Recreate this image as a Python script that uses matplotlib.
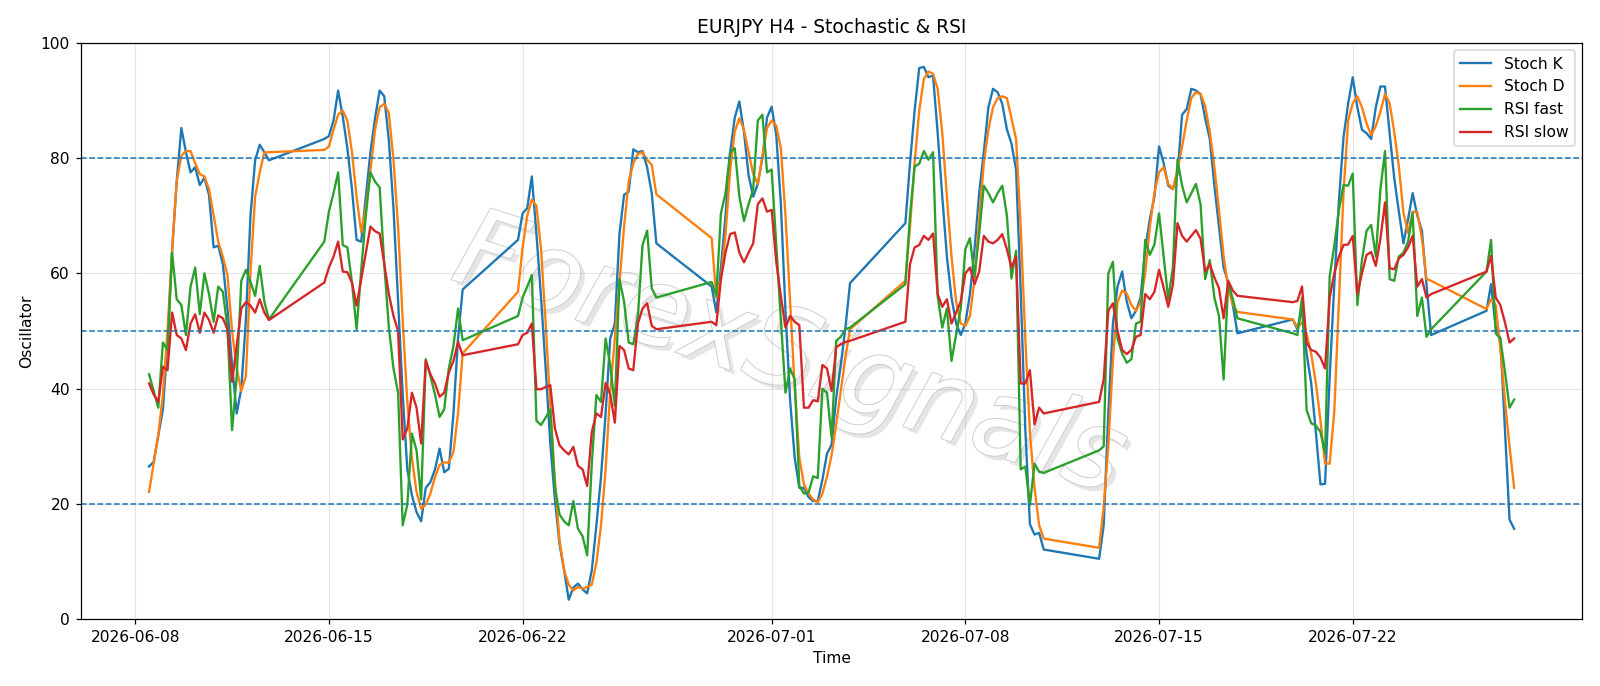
import matplotlib.pyplot as plt
import matplotlib.patheffects as pe
import pandas as pd

# H4 trading sessions (start, end) - weekends have no bars
sessions = [
    ("2026-06-08 12:00", "2026-06-12 20:00"),
    ("2026-06-14 20:00", "2026-06-19 20:00"),
    ("2026-06-21 20:00", "2026-06-26 20:00"),
    ("2026-06-28 20:00", "2026-07-03 20:00"),
    ("2026-07-05 20:00", "2026-07-10 20:00"),
    ("2026-07-12 20:00", "2026-07-17 20:00"),
    ("2026-07-19 20:00", "2026-07-24 20:00"),
    ("2026-07-26 20:00", "2026-07-27 20:00"),
]

stoch_k = [
    26.5, 27.3, 31.8, 36.4, 48, 64, 76, 85.2, 81, 77.5, 78.4, 75.3, 76.6, 73.6, 64.5, 64.8, 61.6, 53.9, 44.1, 35.7, 40, 52, 70, 79.6, 82.3, 81, 79.6,
    83.3, 83.8, 86.5, 91.7, 87.2, 81.7, 74.6, 65.8, 65.5, 73.3, 81, 86.9, 91.7, 90.7, 83, 71.3, 55.1, 39, 26, 21.5, 18.6, 17, 22.8, 23.8, 26, 29.6, 25.5, 26.1, 35.7, 48.7, 57.2,
    65.8, 70.4, 71.3, 76.8, 66.8, 55.8, 43.5, 30.5, 20.8, 13.1, 8.5, 3.4, 5.5, 6.2, 5.2, 4.5, 8.5, 16.3, 24.7, 35.7, 48.7, 51.3, 66.8, 73.6, 74.2, 81.5, 81, 81.2, 78.4, 73.9, 65.2,
    57.7, 53.2, 61, 70, 81, 87, 89.8, 84.5, 77, 73.3, 75.5, 80, 87, 88.9, 84, 72, 53.4, 38, 28, 22.8, 22.8, 21.2, 20.5, 20.5, 24.2, 28.7, 30.3, 38.4, 44.2, 50.6, 58.3,
    68.7, 79.1, 88.2, 95.6, 95.8, 94, 94.3, 84.3, 73.3, 62.9, 55.8, 51.3, 49.3, 51.3, 56.4, 64.2, 73.9, 81, 88.8, 92, 91.4, 89.4, 85, 82.5, 78, 57, 33, 16.5, 14.7, 15, 12.1,
    10.5, 16.3, 35.7, 51.3, 57.7, 60.3, 55.1, 52.2, 53.5, 55.8, 64.2, 69.4, 73.3, 82, 79.1, 75.2, 74.6, 77.2, 87.5, 88.5, 92, 91.7, 91.1, 86.9, 83.3, 75.2, 68.1, 61, 58.4, 54.5, 49.6,
    52, 50.3, 53.9, 46.1, 40.9, 32.5, 23.4, 23.5, 42, 58, 72.5, 83.6, 89.4, 94, 88.8, 84.9, 84.3, 83.3, 88.8, 92.4, 92.4, 84.3, 76.5, 70.7, 65.2, 69.4, 73.9, 70, 67.4, 58, 49.3,
    53.5, 58.1, 50.6, 48.7, 33, 17.3, 15.7,
]

stoch_d = [
    22.1, 27, 32, 39, 50, 64, 76, 80.4, 81.2, 81.2, 79.1, 77.2, 76.8, 74.6, 70, 65.5, 62.9, 59.7, 50, 43.5, 39.6, 42.2, 60.3, 73.3, 77.5, 81, 81,
    81.4, 82, 84.9, 87.5, 88.2, 86.5, 81, 73.3, 67.1, 71.3, 77.8, 84.9, 88.8, 89.4, 87.8, 79.7, 68.1, 51.9, 37.7, 28, 22.1, 19.2, 19.9, 21.8, 24.7, 26.8, 27.2, 27.2, 29, 35.7, 46.1,
    56.8, 64.5, 70, 72.8, 71.7, 64.2, 51.3, 37, 24.1, 13.7, 8.5, 6, 5, 5.6, 5.3, 5.6, 6, 9.8, 16.3, 26, 39.6, 48.7, 58.4, 68.1, 75.9, 79.1, 80.7, 81, 79.7, 78.8, 73.7,
    66.1, 55.8, 59, 66.8, 77.8, 84.6, 86.9, 84.9, 81, 77.2, 75.5, 80.4, 85.2, 86.5, 85.6, 81.7, 70, 55.1, 40.3, 28, 23.4, 21.8, 20.8, 20.3, 21.8, 24.7, 28.5, 33.8, 39.6, 45.5, 50.3,
    58.7, 68.1, 79.1, 88.2, 93.7, 95, 94.6, 92, 84.3, 73.3, 62.9, 55.1, 51.3, 50.9, 52.6, 59, 69.4, 79.1, 84.9, 88.8, 90.4, 90.7, 90.4, 86.9, 83.3, 68.1, 48.7, 32.5, 22.8, 16.3, 14,
    12.4, 19.5, 30, 45, 55, 57, 56.5, 54.5, 53.5, 55, 60, 68, 74, 77.5, 78.4, 75.5, 74.6, 78, 82, 86.5, 90.4, 91.4, 91.1, 89, 84.6, 78.5, 71, 63, 57.5, 54.5, 53.3,
    52, 50.6, 51.5, 49.5, 46, 41, 34.5, 27, 27, 36, 55, 74, 86.5, 89.5, 90.7, 88.8, 86, 84, 85.5, 88, 91.1, 89.5, 84.5, 78.5, 70.5, 67, 70.7, 70.6, 66, 59, 58.7,
    53.8, 55.5, 54.5, 47, 38, 30, 22.8,
]

rsi_fast = [
    42.5, 39.6, 36.7, 48, 46.7, 63.6, 55.5, 54.5, 49.3, 57.7, 61, 52.9, 60, 56.4, 51.6, 57.7, 56.8, 50.6, 32.8, 42, 58.7, 60.6, 58.5, 56.1, 61.3, 55.1, 52,
    65.5, 70.7, 73.9, 77.5, 64.9, 64.5, 58.4, 50.3, 60.5, 70, 77.5, 75.9, 74.9, 61.6, 50.6, 43.5, 39.3, 16.3, 19.9, 32.2, 29.3, 20.8, 45.1, 42.2, 39, 35.1, 36.4, 43.5, 47.4, 53.9, 48.4,
    52.6, 55.8, 57.7, 59.7, 34.4, 33.7, 35, 36.4, 23, 18.2, 17, 16.3, 20.5, 15.7, 14.4, 11.1, 27, 38.9, 37.7, 48.7, 44.1, 37, 59, 55.1, 48, 47.7, 52.6, 64.9, 67.4, 57.4, 55.8,
    58.5, 56.1, 70.4, 73.9, 81, 81.7, 73.3, 69.1, 72, 74.6, 86.5, 87.5, 77.5, 78, 64.9, 51.9, 39.3, 43.5, 41.6, 23.1, 21.8, 22, 24.8, 24.5, 40, 39.3, 31.5, 48.3, 49, 50.3, 50.6,
    58.1, 70, 78.5, 79, 81.2, 79.7, 81, 56, 50.6, 53.9, 44.8, 49.3, 53.9, 64.2, 66.1, 59.4, 66.8, 75.2, 73.9, 72.3, 73.9, 75.2, 70.1, 59.1, 63.9, 26, 26.5, 19.8, 27, 25.6, 25.4,
    29.3, 30, 60, 62, 48.7, 46.1, 44.5, 45.1, 51.3, 51.6, 65.8, 63.2, 65, 70.4, 63, 55.5, 61, 79.7, 75.2, 72.3, 73.9, 75.5, 72, 59, 62.3, 55.8, 52.6, 41.6, 58.4, 55.5, 52.2,
    49.6, 49.3, 55.8, 36.3, 34, 33.6, 32.5, 28.8, 59.5, 64.8, 71, 75.3, 75.2, 77.3, 54.5, 62.3, 67.4, 68.4, 62.9, 74.6, 81.2, 59, 58.7, 62.9, 63.6, 65.5, 70.4, 52.6, 55.8, 49, 50.3,
    60.3, 65.8, 49.6, 48.7, 43, 36.7, 38.1,
]

rsi_slow = [
    40.9, 39, 37.7, 43.8, 43.2, 53.2, 49.3, 48.7, 46.7, 51.3, 52.9, 49.7, 53.2, 51.9, 49.7, 52.7, 52.2, 50.3, 41.2, 47.4, 53.9, 55, 54.4, 53.2, 55.5, 53.2, 51.9,
    58.4, 61, 62.9, 65.5, 60.3, 60.2, 58.4, 54.4, 59, 63.6, 68.1, 67.3, 66.9, 61.6, 56.4, 52.6, 50, 31.2, 33.1, 39.3, 36.7, 30.5, 44.8, 42.5, 40.9, 38.6, 39.3, 42.8, 44.8, 48.1, 45.8,
    47.7, 49.3, 49.7, 51.3, 39.9, 39.9, 40.3, 40.6, 33.1, 30.2, 29.3, 28.6, 29.9, 26.6, 26, 23.1, 32.5, 35.7, 35.1, 41, 39, 34.1, 47.4, 46.7, 43.5, 43.2, 51.3, 53.9, 54.8, 50.9, 50.3,
    51.6, 51, 59, 63.6, 66.8, 67.1, 63.6, 61.9, 63.6, 65.2, 72, 73, 70.7, 71, 62, 56, 50.6, 52.6, 51.6, 51, 36.7, 36.7, 38, 37.8, 44.1, 43.5, 39.6, 47.2, 47.7, 48.1, 48.3,
    51.6, 61.6, 64.5, 64.9, 66.5, 65.8, 66.9, 56.4, 54.2, 55.5, 51.3, 53.2, 55.1, 60, 61, 58.1, 60.3, 66.5, 65.5, 65.2, 65.8, 66.8, 64.2, 61, 62.9, 40.9, 40.9, 43.2, 33.8, 36.7, 35.7,
    37.7, 41.6, 53.5, 54.8, 50, 46.7, 46, 46.7, 49, 49.3, 56.4, 55.5, 56.8, 60.6, 57.5, 54.2, 58, 68.7, 66.5, 65.5, 66.5, 67.5, 66, 60.3, 61.6, 59.3, 57.4, 52.2, 58.7, 57, 56.1,
    55, 55.2, 57.7, 48, 46.7, 46.4, 45.4, 43.5, 55.8, 60, 62.9, 64.9, 65, 66.5, 56.4, 60, 63.2, 63.7, 61.3, 66, 72.3, 60.9, 60.7, 62.6, 63.2, 64.5, 66.5, 57.7, 59, 55.8, 56.4,
    60.3, 63, 55.8, 54.5, 51.5, 48, 48.7,
]

levels = [20, 50, 80]

times = pd.DatetimeIndex([])
for start, end in sessions:
    times = times.append(pd.date_range(start, end, freq="4h"))

dpi = 112
fig, ax = plt.subplots(figsize=(1600 / dpi, 686 / dpi), dpi=dpi)
plt.subplots_adjust(left=0.0505, right=0.989, top=0.9378, bottom=0.0972)

# watermark
ax.text(0.472, 0.455, "ForexSignals", transform=ax.transAxes, fontsize=70,
        rotation=-18, ha="center", va="center", style="italic", fontweight="light",
        color="white", zorder=0,
        path_effects=[pe.withSimplePatchShadow(offset=(3, -3), shadow_rgbFace="0.6", alpha=0.25),
                      pe.withStroke(linewidth=1.2, foreground="0.8")])

ax.plot(times, stoch_k, label="Stoch K")
ax.plot(times, stoch_d, label="Stoch D")
ax.plot(times, rsi_fast, label="RSI fast")
ax.plot(times, rsi_slow, label="RSI slow")

for lvl in levels:
    ax.axhline(lvl, linestyle="--", linewidth=1, color="tab:blue")

ax.set_ylim(0, 100)
ax.set_title("EURJPY H4 - Stochastic & RSI")
ax.set_xlabel("Time")
ax.set_ylabel("Oscillator")
ax.grid(True, alpha=0.3)
ax.legend(loc="upper right")

plt.savefig("out.png", dpi=dpi)
